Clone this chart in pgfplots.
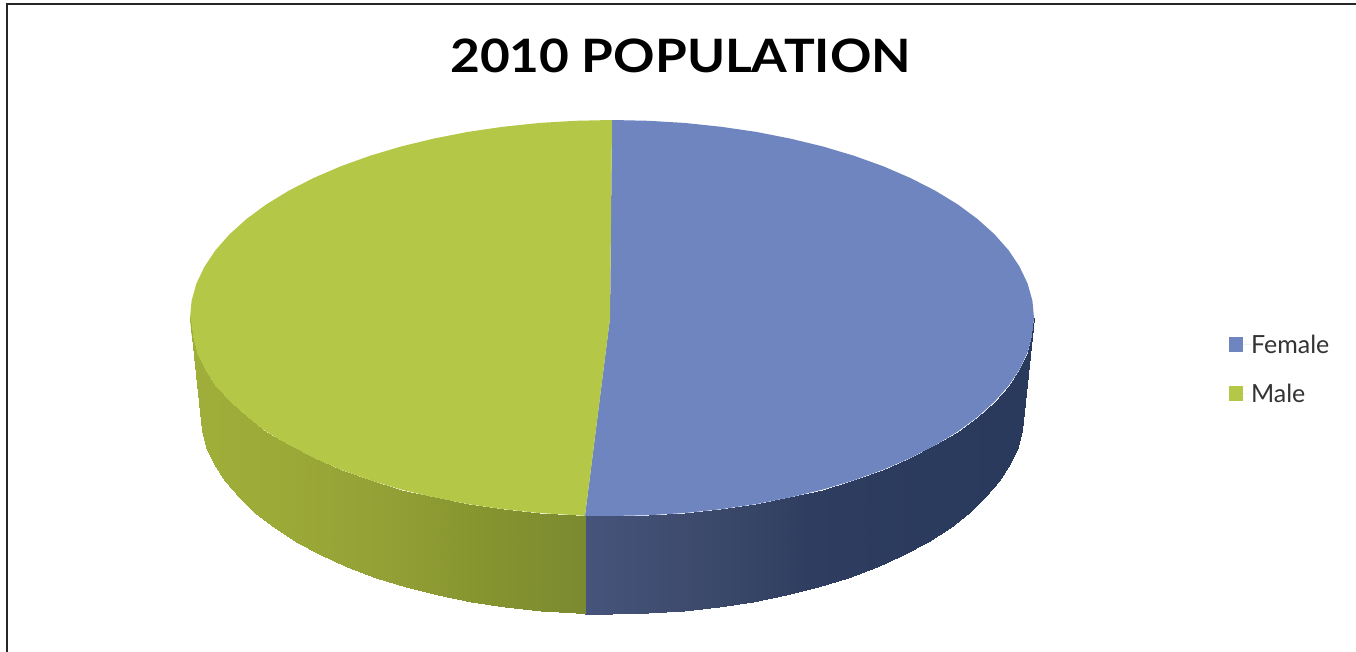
\documentclass[border=0pt]{standalone}
\usepackage{fontspec}
\setmainfont{Lato}
\usepackage{pgfplots}
\usepackage{pgfplotstable}
\pgfplotsset{compat=1.18}

\definecolor{female}{RGB}{110,133,192}
\definecolor{male}{RGB}{181,199,70}

% rim of the pie, pixel coordinates of the picture (y downward): top edge, bottom edge
\pgfplotstableread{
x y
585 515.8
585 613.5
612 516
612 614
648.8 515.2
647.9 613.2
685.3 513
683.5 610.9
721.2 509.2
718.6 607.1
756.3 504.1
752.9 601.8
790.3 497.4
786.1 595.1
823 489.5
818 586.9
854.1 480.2
848.3 577.5
883.3 469.7
876.8 566.7
910.4 458
903.3 554.8
935.3 445.3
927.6 541.8
957.7 431.6
949.5 527.9
977.5 417
968.8 513
994.5 401.7
985.4 497.4
1008.6 385.7
999.2 481.1
1019.6 369.2
1010 464.3
1027.6 352.4
1017.7 447.1
1032.4 335.3
1022.4 429.6
1034 318
1024 412
}\femaleside

\pgfplotstableread{
x y
190 318
200 412
191.6 335.3
201.6 429.6
196.4 352.4
206.3 447.1
204.4 369.2
214 464.3
215.4 385.7
224.8 481.1
229.5 401.7
238.6 497.4
246.5 417
255.2 513
266.3 431.6
274.5 527.9
288.7 445.3
296.4 541.8
313.6 458
320.7 554.8
340.7 469.7
347.2 566.7
369.9 480.2
375.7 577.5
401 489.5
406 586.9
433.7 497.4
437.9 595.1
467.7 504.1
471.1 601.8
502.8 509.2
505.4 607.1
538.7 513
540.5 610.9
575.2 515.2
576.1 613.2
585 515.8
585 613.5
}\maleside

\begin{document}
\begin{tikzpicture}
\useasboundingbox (0,0) rectangle (1356pt,652pt);
\begin{axis}[
  scale only axis,
  width=1356pt,
  height=652pt,
  xmin=0,xmax=1356,
  ymin=0,ymax=652,
  y dir=reverse,
  hide axis,
  clip=false,
  title={\fontsize{46}{50}\selectfont\bfseries 2010 POPULATION},
  title style={at={(0.502,0.905)},anchor=center,inner sep=0pt,xscale=1.117},
  legend cell align=left,
  legend style={draw=none,fill=none,at={(axis cs:1229,335)},anchor=north west,
    font=\fontsize{25}{29}\selectfont\color{black!80},row sep=29pt,inner sep=0pt,outer sep=0pt,
    nodes={inner sep=0pt}},
  legend image code/.code={\fill[#1] (0pt,-7.5pt) rectangle (14pt,7.5pt);\path (0pt,0pt) -- (22pt,0pt);},
  colormap={femaleside}{rgb255=(70,84,124) rgb255=(61,74,108) rgb255=(47,62,96) rgb255=(43,59,93) rgb255=(42,58,92)},
  colormap={maleside}{rgb255=(160,175,58) rgb255=(155,169,55) rgb255=(147,160,54) rgb255=(134,148,47) rgb255=(123,138,48)},
]
% top faces, listed first so that the legend follows them
\addplot[fill=female,draw=none] coordinates {
  (612,120) (648.8,120.8) (685.3,123) (721.2,126.8) (756.3,131.9) (790.3,138.6)
  (823,146.5) (854.1,155.8) (883.3,166.3) (910.4,178) (935.3,190.7) (957.7,204.4)
  (977.5,219) (994.5,234.3) (1008.6,250.3) (1019.6,266.8) (1027.6,283.6) (1032.4,300.7)
  (1034,318) (1032.4,335.3) (1027.6,352.4) (1019.6,369.2) (1008.6,385.7) (994.5,401.7)
  (977.5,417) (957.7,431.6) (935.3,445.3) (910.4,458) (883.3,469.7) (854.1,480.2)
  (823,489.5) (790.3,497.4) (756.3,504.1) (721.2,509.2) (685.3,513) (648.8,515.2)
  (612,516) (585,515.8) (610,318)
} -- cycle;
\addlegendentry{Female}
\addplot[fill=male,draw=none] coordinates {
  (612,120) (575.2,120.8) (538.7,123) (502.8,126.8) (467.7,131.9) (433.7,138.6)
  (401,146.5) (369.9,155.8) (340.7,166.3) (313.6,178) (288.7,190.7) (266.3,204.4)
  (246.5,219) (229.5,234.3) (215.4,250.3) (204.4,266.8) (196.4,283.6) (191.6,300.7)
  (190,318) (191.6,335.3) (196.4,352.4) (204.4,369.2) (215.4,385.7) (229.5,401.7)
  (246.5,417) (266.3,431.6) (288.7,445.3) (313.6,458) (340.7,469.7) (369.9,480.2)
  (401,489.5) (433.7,497.4) (467.7,504.1) (502.8,509.2) (538.7,513) (575.2,515.2)
  (585,515.8) (610,318)
} -- cycle;
\addlegendentry{Male}
% rim, shaded across its length
\addplot[surf,shader=interp,colormap name=femaleside,point meta=x,point meta rel=per plot,mesh/rows=20,mesh/cols=2,forget plot] table {\femaleside};
\addplot[surf,shader=interp,colormap name=maleside,point meta=x,point meta rel=per plot,mesh/rows=19,mesh/cols=2,forget plot] table {\maleside};
% page frame
\addplot[black!85,line width=2pt,forget plot] coordinates {(6.5,652) (6.5,4.5) (1356,4.5)};
\end{axis}
\end{tikzpicture}
\end{document}
